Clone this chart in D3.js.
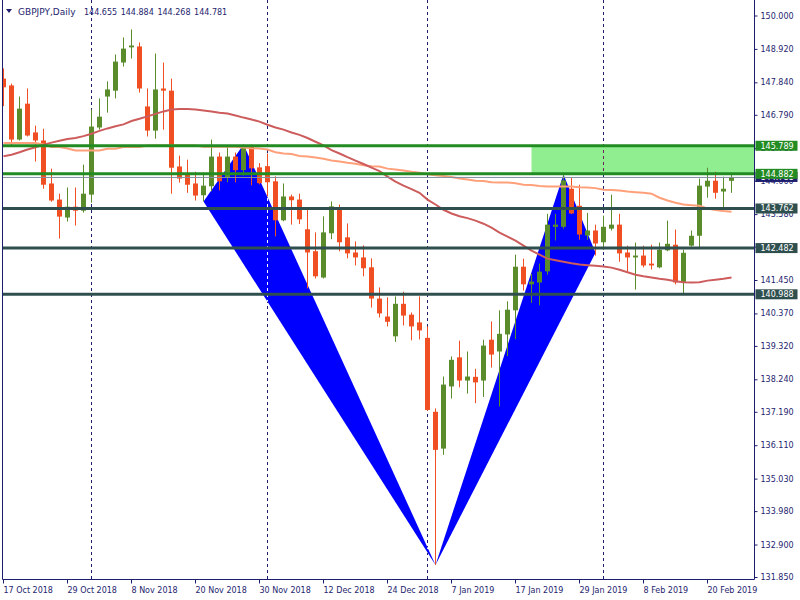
<!DOCTYPE html>
<html><head><meta charset="utf-8">
<script src="https://cdn.jsdelivr.net/npm/d3@7"></script>
<style>
body{margin:0;background:#fff}
svg{display:block}
text{font-family:'DejaVu Sans',sans-serif}
</style>
</head><body>
<svg id="chart" width="800" height="600"></svg>
<script>
// ---------------- DATA ----------------
const symbolTitle = "GBPJPY,Daily";
const dates = [
"2018-10-17","2018-10-18","2018-10-19","2018-10-22","2018-10-23","2018-10-24","2018-10-25","2018-10-26","2018-10-29","2018-10-30","2018-10-31",
"2018-11-01","2018-11-02","2018-11-05","2018-11-06","2018-11-07","2018-11-08","2018-11-09","2018-11-12","2018-11-13","2018-11-14","2018-11-15","2018-11-16","2018-11-19","2018-11-20","2018-11-21","2018-11-22","2018-11-23","2018-11-26","2018-11-27","2018-11-28","2018-11-29","2018-11-30",
"2018-12-03","2018-12-04","2018-12-05","2018-12-06","2018-12-07","2018-12-10","2018-12-11","2018-12-12","2018-12-13","2018-12-14","2018-12-17","2018-12-18","2018-12-19","2018-12-20","2018-12-21","2018-12-24","2018-12-26","2018-12-27","2018-12-28","2018-12-31",
"2019-01-02","2019-01-03","2019-01-04","2019-01-07","2019-01-08","2019-01-09","2019-01-10","2019-01-11","2019-01-14","2019-01-15","2019-01-16","2019-01-17","2019-01-18","2019-01-21","2019-01-22","2019-01-23","2019-01-24","2019-01-25","2019-01-28","2019-01-29","2019-01-30","2019-01-31",
"2019-02-01","2019-02-04","2019-02-05","2019-02-06","2019-02-07","2019-02-08","2019-02-11","2019-02-12","2019-02-13","2019-02-14","2019-02-15","2019-02-18","2019-02-19","2019-02-20","2019-02-21","2019-02-22","2019-02-25"];

const open = [147.96,147.74,145.99,147.15,146.22,145.96,144.57,144.05,143.47,143.82,143.69,
144.21,146.38,147.38,147.57,148.48,148.97,149.00,147.06,146.28,147.64,147.57,145.12,144.86,144.57,144.19,144.48,145.44,144.77,145.44,145.00,145.79,145.09,
145.13,144.64,143.38,144.15,144.05,143.09,142.38,141.53,142.96,143.80,142.83,142.34,142.18,141.86,140.85,140.27,139.63,140.68,140.33,140.08,
139.58,137.19,136.00,138.01,138.95,138.20,138.32,138.20,139.52,139.14,139.69,140.47,141.88,141.31,141.37,141.73,143.17,143.17,144.40,143.85,142.89,143.05,
142.67,143.11,143.24,142.34,142.18,142.24,141.98,141.86,142.41,142.59,141.37,142.56,142.88,144.47,144.66,144.31,144.655];
const high = [148.29,147.80,147.38,147.64,146.44,146.34,145.05,144.24,144.44,144.44,145.18,
146.96,147.32,147.87,148.74,149.29,149.55,149.13,147.64,148.77,148.48,147.96,145.47,145.34,144.95,144.92,145.99,145.57,145.75,145.57,145.83,145.83,145.23,
145.54,144.80,144.57,144.21,144.24,143.72,142.99,143.51,143.99,143.89,143.28,142.70,142.57,142.15,141.21,140.89,140.92,141.07,140.40,140.92,
139.95,137.30,138.33,138.98,139.49,139.14,138.58,139.52,140.11,140.47,140.76,142.27,142.14,141.65,141.98,143.59,143.59,144.86,144.76,144.53,143.62,143.24,
143.53,144.21,143.59,142.56,142.66,142.56,142.59,142.66,143.37,143.08,142.43,143.05,144.73,145.08,144.95,144.79,144.884];
const low = [147.07,145.80,145.96,146.09,145.28,144.40,143.98,142.79,143.34,143.21,143.63,
143.95,146.31,146.86,147.32,148.35,148.61,147.51,146.09,146.02,146.31,144.24,144.60,144.27,144.02,143.99,144.32,144.35,144.61,144.61,144.83,144.51,144.54,
144.15,142.86,143.35,143.24,143.26,141.18,141.50,141.50,142.77,142.38,142.15,141.92,141.57,140.56,140.24,139.95,139.45,139.98,139.50,139.53,
137.22,132.24,135.80,137.62,137.98,137.78,137.47,137.67,138.62,137.36,138.99,139.54,141.11,140.71,140.63,141.62,142.73,143.11,143.58,142.75,142.75,142.24,
142.43,143.05,142.04,141.72,141.14,141.86,141.79,141.83,142.38,141.31,141.02,142.53,142.50,144.11,144.08,143.79,144.268];
const close = [147.68,145.99,146.99,146.12,145.96,144.53,144.02,143.50,143.82,143.69,144.24,
146.41,146.73,147.61,148.51,148.93,149.03,147.64,146.28,147.61,147.57,145.08,144.73,144.53,144.18,144.50,145.44,144.64,145.44,145.00,145.79,145.06,144.58,
144.61,143.38,144.15,144.03,143.41,142.34,141.57,142.99,143.83,142.67,142.31,142.18,141.83,140.85,140.37,140.10,140.68,140.30,139.95,139.82,
137.25,135.96,138.07,138.87,138.20,138.33,138.14,139.33,139.04,139.71,140.49,141.88,141.31,141.40,141.72,143.24,143.24,144.67,143.60,142.92,143.05,142.63,
143.17,143.24,142.31,142.18,142.24,141.92,141.92,142.43,142.62,141.37,142.33,142.88,144.50,144.66,144.27,144.40,144.781];

const maFast = [145.45,145.50,145.58,145.67,145.74,145.82,145.89,145.95,146.01,146.04,146.10,
146.18,146.27,146.35,146.42,146.48,146.59,146.66,146.74,146.82,146.90,146.96,146.98,146.98,146.96,146.93,146.90,146.86,146.83,146.77,146.70,146.64,146.57,
146.47,146.38,146.31,146.22,146.14,146.04,145.92,145.80,145.65,145.54,145.42,145.31,145.20,145.08,144.97,144.79,144.63,144.50,144.39,144.27,
144.05,143.89,143.72,143.60,143.51,143.45,143.37,143.27,143.14,142.98,142.85,142.72,142.56,142.40,142.27,142.14,142.09,142.04,141.99,141.95,141.93,141.91,
141.89,141.85,141.78,141.70,141.62,141.57,141.53,141.49,141.46,141.41,141.38,141.37,141.38,141.43,141.46,141.49,141.53];
const maSlow = [145.88,145.88,145.88,145.88,145.88,145.83,145.75,145.75,145.70,145.64,145.64,
145.64,145.64,145.69,145.69,145.75,145.75,145.75,145.80,145.80,145.80,145.80,145.80,145.80,145.80,145.76,145.76,145.76,145.76,145.76,145.73,145.71,145.70,
145.67,145.58,145.54,145.52,145.46,145.44,145.41,145.37,145.31,145.28,145.24,145.21,145.16,145.13,145.12,145.05,145.02,144.99,144.95,144.92,
144.87,144.84,144.81,144.78,144.73,144.70,144.66,144.65,144.61,144.60,144.60,144.58,144.53,144.52,144.49,144.47,144.47,144.47,144.47,144.45,144.44,144.42,
144.37,144.36,144.34,144.31,144.29,144.27,144.24,144.11,144.02,143.95,143.89,143.87,143.85,143.76,143.71,143.68,143.66];

const yTickValues = [150.000,148.920,147.840,146.790,145.710,144.660,143.580,142.530,141.450,140.370,139.320,138.240,137.190,136.110,135.030,133.980,132.900,131.850];
const greenLevels = [145.789, 144.882];
const slateLevels = [143.762, 142.482, 140.988];
const bidPrice = 144.781;
const zoneStartDate = "2019-01-21";
const separatorDates = ["2018-11-01","2018-12-03","2019-01-02","2019-02-01"];
const patternDates = ["2018-11-21","2018-11-28","2019-01-03","2019-01-25","2019-01-31"];
const patternPrices = [143.99, 145.83, 132.24, 144.86, 142.33];

// ---------------- DRAW ----------------
const navy = "#1e1e6e";
const bullCol = "#5b8c2c", bearCol = "#f04e23";
const svg = d3.select("#chart");
svg.append("rect").attr("width",800).attr("height",600).attr("fill","#fff");

const plotL = 2.5, plotR = 754.5, plotB = 579.5;
const x = d3.scalePoint().domain(dates).range([3.5, 3.5 + 8*(dates.length-1)]);
const y = d3.scaleLinear().domain([131.85, 150]).range([577, 15.5]);
const fmt = d3.format(".3f");

const defs = svg.append("defs");
defs.append("clipPath").attr("id","plotclip").append("rect")
  .attr("x",plotL+0.5).attr("y",0).attr("width",plotR-plotL-0.5).attr("height",plotB-0.5);

const P = i => [x(patternDates[i]), y(patternPrices[i])];
const tri1 = [P(0),P(1),P(2)], tri2 = [P(2),P(3),P(4)];
const cp1 = defs.append("clipPath").attr("id","triclip");
cp1.append("polygon").attr("points", tri1.map(p=>p.join(",")).join(" "));
cp1.append("polygon").attr("points", tri2.map(p=>p.join(",")).join(" "));
const zx0 = x(zoneStartDate);
defs.append("clipPath").attr("id","zoneclip").append("rect")
  .attr("x",zx0).attr("y",y(greenLevels[0])).attr("width",plotR-zx0).attr("height",y(greenLevels[1])-y(greenLevels[0]));

const g = svg.append("g").attr("clip-path","url(#plotclip)");

// zone rectangle
g.append("rect").attr("x",zx0).attr("y",y(greenLevels[0]))
  .attr("width",plotR-zx0).attr("height",y(greenLevels[1])-y(greenLevels[0]))
  .attr("fill","#90ee90");

// period separators
const sepG = g.append("g");
function drawSeps(sel, col){
  sel.selectAll("line").data(separatorDates).join("line")
    .attr("x1",d=>Math.round(x(d))-0.5+0).attr("x2",d=>Math.round(x(d))-0.5)
    .attr("y1",0).attr("y2",plotB)
    .attr("stroke",col).attr("stroke-width",1).attr("stroke-dasharray","3,3");
}
drawSeps(sepG, navy);

// pattern triangles
g.append("polygon").attr("points", tri1.map(p=>p.join(",")).join(" ")).attr("fill","#0000ff");
g.append("polygon").attr("points", tri2.map(p=>p.join(",")).join(" ")).attr("fill","#0000ff");
drawSeps(g.append("g").attr("clip-path","url(#triclip)"), "#ffffff");
drawSeps(g.append("g").attr("clip-path","url(#zoneclip)"), "#6f1f5f");

// candles
const cg = g.append("g");
dates.forEach((d,i)=>{
  const cx = x(d);
  const up = close[i] >= open[i];
  const col = up ? bullCol : bearCol;
  cg.append("rect").attr("x",cx-0.5).attr("width",1)
    .attr("y",y(high[i])).attr("height",Math.max(1,y(low[i])-y(high[i]))).attr("fill",col);
  const top = y(Math.max(open[i],close[i])), bot = y(Math.min(open[i],close[i]));
  cg.append("rect").attr("x",cx-2.5).attr("width",5)
    .attr("y",top).attr("height",Math.max(1.5,bot-top)).attr("fill",col);
});

// moving averages
const line = arr => d3.line().x((v,i)=>x(dates[i])).y(v=>y(v))(arr);
g.append("path").attr("d",line(maSlow)).attr("fill","none").attr("stroke","#ffa07a").attr("stroke-width",2);
g.append("path").attr("d",line(maFast)).attr("fill","none").attr("stroke","#cd5c5c").attr("stroke-width",2);

// horizontal levels
g.append("line").attr("x1",plotL).attr("x2",plotR).attr("y1",y(bidPrice)+0.5).attr("y2",y(bidPrice)+0.5)
  .attr("stroke","#8090a0").attr("stroke-width",1);
g.selectAll(".slate").data(slateLevels).join("line").attr("class","slate")
  .attr("x1",plotL).attr("x2",plotR).attr("y1",d=>y(d)).attr("y2",d=>y(d))
  .attr("stroke","#2f4f4f").attr("stroke-width",3);
g.selectAll(".grn").data(greenLevels).join("line").attr("class","grn")
  .attr("x1",plotL).attr("x2",plotR).attr("y1",d=>y(d)).attr("y2",d=>y(d))
  .attr("stroke","#228b22").attr("stroke-width",3);

// frame / axes
svg.append("line").attr("x1",plotL).attr("x2",plotL).attr("y1",0).attr("y2",plotB).attr("stroke",navy);
svg.append("line").attr("x1",plotR).attr("x2",plotR).attr("y1",0).attr("y2",plotB).attr("stroke",navy);
svg.append("line").attr("x1",plotL).attr("x2",plotR).attr("y1",plotB).attr("y2",plotB).attr("stroke",navy);

// y axis
const yAxis = d3.axisRight(y).tickValues(yTickValues).tickFormat(fmt).tickSize(3).tickPadding(3);
const ya = svg.append("g").attr("transform",`translate(${plotR},0)`).call(yAxis);
ya.select(".domain").remove();
ya.selectAll("line").attr("stroke",navy);
ya.selectAll("text").attr("fill",navy).attr("font-size","8px").attr("font-family","'DejaVu Sans',sans-serif");

// x axis
const xTicks = dates.filter((d,i)=>i%8===0);
const parse = d3.timeParse("%Y-%m-%d"), tf = d3.timeFormat("%-d %b %Y");
const xAxis = d3.axisBottom(x).tickValues(xTicks).tickFormat(d=>tf(parse(d))).tickSize(4).tickPadding(2);
const xa = svg.append("g").attr("transform",`translate(-0.5,${plotB})`).call(xAxis);
xa.select(".domain").remove();
xa.selectAll("line").attr("stroke",navy);
xa.selectAll("text").attr("fill",navy).attr("font-size","8px").attr("text-anchor","start")
  .attr("font-family","'DejaVu Sans',sans-serif").attr("dy","0.9em");

// price labels
function priceLabel(v, bg){
  const yy = y(v);
  svg.append("rect").attr("x",plotR+1).attr("y",yy-5).attr("width",42).attr("height",10).attr("fill",bg);
  svg.append("text").attr("x",plotR+6).attr("y",yy).attr("dy","0.35em").attr("fill","#fff")
    .attr("font-size","8px").text(fmt(v));
}
priceLabel(bidPrice, "#1e1e6e");
slateLevels.forEach(v=>priceLabel(v,"#2f4f4f"));
greenLevels.forEach(v=>priceLabel(v,"#228b22"));

// title
svg.append("polygon").attr("points","6,9 12,9 9,13").attr("fill",navy);
svg.append("text").attr("x",18).attr("y",14.5).attr("fill",navy).attr("font-size","9px").text(symbolTitle);
[open[91],high[91],low[91],close[91]].forEach((v,k)=>{
  svg.append("text").attr("x",84+36.7*k).attr("y",14.5).attr("fill",navy).attr("font-size","8px").text(fmt(v));
});
</script>
</body></html>
